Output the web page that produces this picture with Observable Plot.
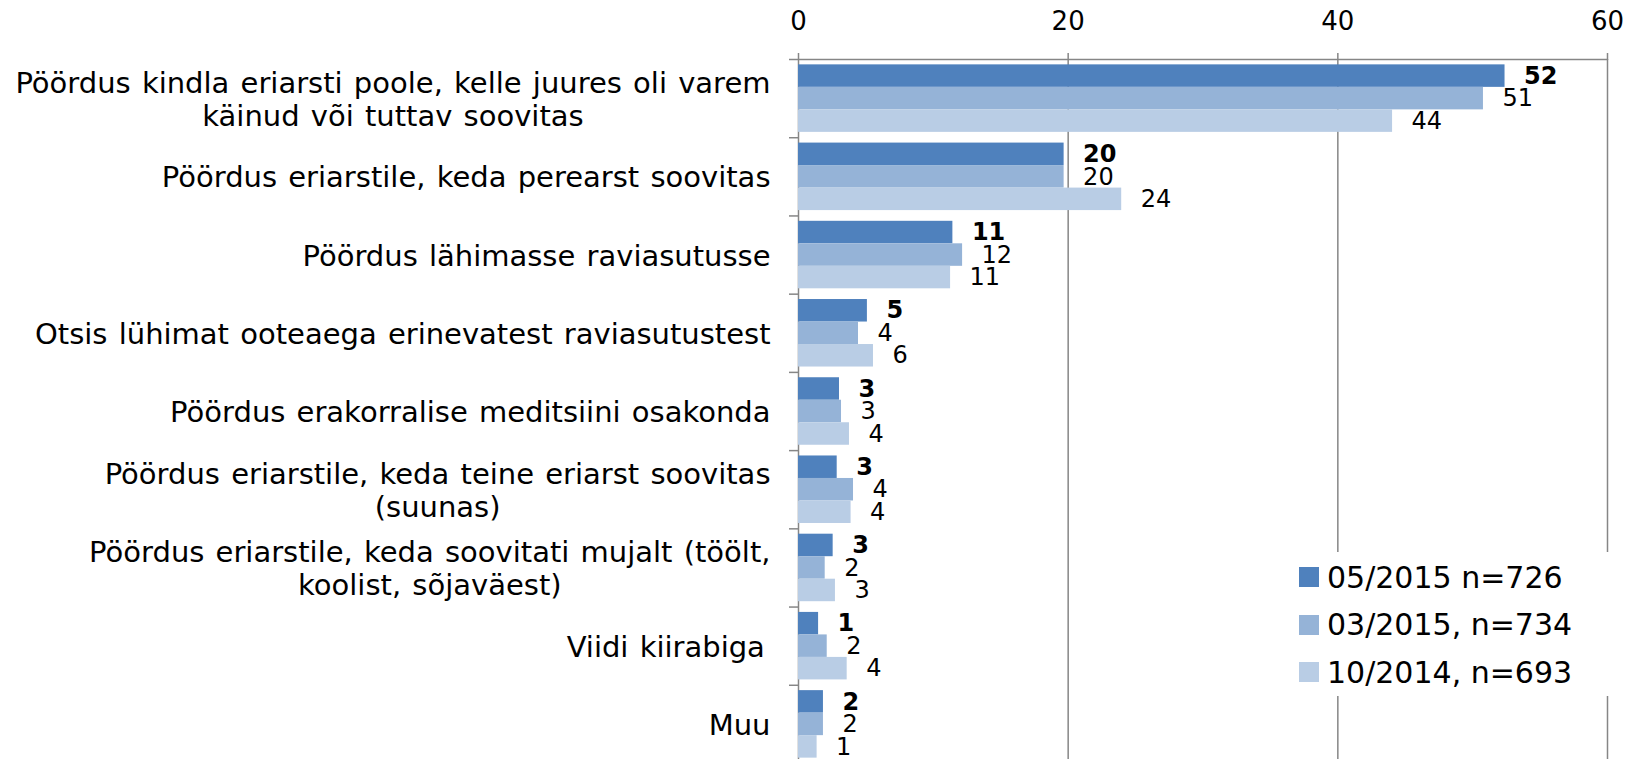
<!DOCTYPE html>
<html><head><meta charset="utf-8">
<script src="https://cdn.jsdelivr.net/npm/d3@7"></script>
<script src="https://cdn.jsdelivr.net/npm/@observablehq/plot@0.6"></script>
<style>
html,body{margin:0;padding:0;background:#fff;overflow:hidden;}
#wrap{position:relative;width:1627px;height:759px;overflow:hidden;}
#legend{position:absolute;left:1290px;top:552px;width:337px;height:144px;background:#fff;font-family:"DejaVu Sans";font-size:30px;color:#000;}
.row{position:absolute;left:9px;height:40px;display:flex;align-items:center;white-space:pre;}
.sw{width:20px;height:20px;margin-right:8px;flex:none;}
</style></head><body><div id="wrap"></div>
<script>
// ---- data ----
const categories = [
  "Pöördus kindla eriarsti poole, kelle juures oli varem\nkäinud või tuttav soovitas",
  "Pöördus eriarstile, keda perearst soovitas",
  "Pöördus lähimasse raviasutusse",
  "Otsis lühimat ooteaega erinevatest raviasutustest",
  "Pöördus erakorralise meditsiini osakonda",
  "Pöördus eriarstile, keda teine eriarst soovitas\n(suunas)",
  "Pöördus eriarstile, keda soovitati mujalt (töölt,\nkoolist, sõjaväest)",
  "Viidi kiirabiga ",
  "Muu"
];
const seriesNames = ["05/2015 n=726", "03/2015, n=734", "10/2014, n=693"];
const seriesColors = ["#4f81bd", "#95b3d7", "#b9cde5"];
const may2015 = [52.4, 19.7, 11.45, 5.11, 3.04, 2.87, 2.57, 1.49, 1.85];
const mar2015 = [50.8, 19.7, 12.17, 4.45, 3.19, 4.08, 1.98, 2.13, 1.85];
const oct2014 = [44.06, 23.97, 11.28, 5.56, 3.78, 3.9, 2.74, 3.61, 1.38];
const xTicks = [0, 20, 40, 60];

// ---- layout ----
const W = 1627, H = 763, mt = 59, mb = 0, ml = 798, mr = 20;
const n = categories.length;
const step = (H - mt - mb) / n;
const pIn = 0.137;
const bw = step * (1 - pIn);
const pxPerUnit = (W - ml - mr) / 60;
const gray = "#868686";
const catFont = 29, wordSp = 2, catGap = 28;

const series = [may2015, mar2015, oct2014].map((vals, i) => ({
  name: seriesNames[i], color: seriesColors[i],
  rows: categories.map((c, j) => ({cat: c, v: vals[j]}))
}));

const ctx = document.createElement("canvas").getContext("2d");
ctx.font = `${catFont}px "DejaVu Sans"`;
const lineW = s => { s = s.trim(); return ctx.measureText(s).width + wordSp * (s.split(" ").length - 1); };

const marks = [];
marks.push(Plot.ruleX(xTicks.slice(1), {stroke: gray, strokeWidth: 1.5}));
marks.push(Plot.ruleX([0], {stroke: gray, strokeWidth: 1.5}));
marks.push(Plot.ruleY([categories[0]], {y: d => d, x1: 0, x2: 60, dy: -step / 2, stroke: gray, strokeWidth: 1.5}));
marks.push(Plot.ruleY(categories, {y: d => d, x1: -9 / pxPerUnit, x2: 0, dy: -step / 2, stroke: gray, strokeWidth: 1.5}));
marks.push(Plot.ruleY([categories[n - 1]], {y: d => d, x1: -9 / pxPerUnit, x2: 0, dy: step / 2, stroke: gray, strokeWidth: 1.5}));
series.forEach((s, i) => {
  marks.push(Plot.barX(s.rows, {
    y: "cat", x: "v", fill: s.color,
    insetTop: i * bw / 3, insetBottom: (2 - i) * bw / 3
  }));
});
series.forEach((s, i) => {
  marks.push(Plot.text(s.rows, {
    y: "cat", x: "v", text: d => String(Math.round(d.v)),
    dx: 19, dy: (i - 1) * bw / 3, textAnchor: "start",
    fontSize: 24, fontWeight: i === 0 ? "bold" : "normal", fill: "#000"
  }));
});
categories.forEach(c => {
  const w = d3.max(c.split("\n"), lineW);
  marks.push(Plot.text([c], {
    y: d => d, text: d => d, frameAnchor: "left",
    dx: -(catGap + w / 2), textAnchor: "middle", lineAnchor: "middle",
    lineHeight: 1.14, fontSize: catFont, fill: "#000", className: "cat"
  }));
});
marks.push(Plot.axisX({
  anchor: "top", ticks: xTicks, tickSize: 7, tickPadding: 23,
  stroke: gray, strokeWidth: 1.5, fill: "#000", fontSize: 26,
  tickFormat: d => String(d), label: null
}));

const chart = Plot.plot({
  width: W, height: H,
  marginTop: mt, marginBottom: mb, marginLeft: ml, marginRight: mr,
  x: {domain: [0, 60]},
  y: {domain: categories, paddingInner: pIn, paddingOuter: pIn / 2, round: false, axis: null},
  style: {fontFamily: "DejaVu Sans", background: "#fff", overflow: "visible", color: "#000"},
  marks
});
const wrap = document.getElementById("wrap");
wrap.appendChild(chart);
chart.querySelectorAll(".cat text, text.cat").forEach(t => t.setAttribute("word-spacing", wordSp));

const legend = document.createElement("div");
legend.id = "legend";
series.forEach((s, i) => {
  const row = document.createElement("div");
  row.className = "row";
  row.style.top = (5 + i * 47.5) + "px";
  const sw = document.createElement("span");
  sw.className = "sw"; sw.style.background = s.color;
  const t = document.createElement("span");
  t.textContent = s.name;
  row.appendChild(sw); row.appendChild(t);
  legend.appendChild(row);
});
wrap.appendChild(legend);
</script>
</body></html>
